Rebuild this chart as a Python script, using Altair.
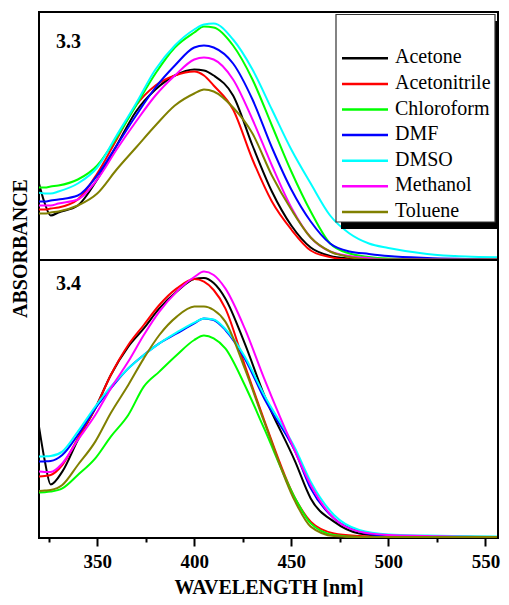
import altair as alt
import pandas as pd

solvents = ["Acetone", "Acetonitrile", "Chloroform", "DMF", "DMSO", "Methanol", "Toluene"]
colors = ["#000000", "#ff0000", "#00ff00", "#0000ff", "#00ffff", "#ff00ff", "#808000"]
panel_labels = ["3.3", "3.4"]

# ---- panel 3.3 ----
wl_top = [320, 323, 326, 330, 340, 350, 360, 370, 380, 390, 400, 405, 410, 420, 430,
          440, 450, 460, 470, 480, 490, 500, 520, 540, 556]
top_acetone = [0.38, 0.28, 0.22, 0.235, 0.27, 0.40, 0.57, 0.74, 0.85, 0.92, 0.95, 0.945, 0.92, 0.82, 0.57,
               0.34, 0.17, 0.06, 0.018, 0.005, 0.0, 0.0, 0.0, 0.0, 0.0]
top_acetonitrile = [0.25, 0.25, 0.255, 0.26, 0.30, 0.43, 0.60, 0.77, 0.87, 0.92, 0.94, 0.92, 0.87, 0.75, 0.50,
                    0.29, 0.15, 0.045, 0.012, 0.0, 0.0, 0.0, 0.0, 0.0, 0.0]
top_chloroform = [0.36, 0.36, 0.365, 0.37, 0.40, 0.47, 0.61, 0.77, 0.93, 1.06, 1.135, 1.165, 1.16, 1.07, 0.90,
                  0.67, 0.44, 0.24, 0.08, 0.03, 0.013, 0.005, 0.0, 0.0, 0.0]
top_dmf = [0.29, 0.29, 0.295, 0.30, 0.32, 0.42, 0.57, 0.72, 0.86, 0.97, 1.06, 1.07, 1.06, 0.98, 0.80,
           0.56, 0.35, 0.19, 0.08, 0.04, 0.028, 0.018, 0.008, 0.003, 0.0]
top_dmso = [0.334, 0.33, 0.33, 0.34, 0.38, 0.46, 0.62, 0.78, 0.95, 1.07, 1.15, 1.175, 1.18, 1.10, 0.95,
            0.75, 0.55, 0.38, 0.22, 0.13, 0.08, 0.058, 0.028, 0.015, 0.011]
top_methanol = [0.27, 0.27, 0.27, 0.28, 0.30, 0.40, 0.55, 0.69, 0.82, 0.92, 1.00, 1.01, 1.00, 0.90, 0.70,
                0.47, 0.26, 0.11, 0.04, 0.018, 0.007, 0.0, 0.0, 0.0, 0.0]
top_toluene = [0.23, 0.23, 0.235, 0.24, 0.27, 0.33, 0.45, 0.56, 0.67, 0.77, 0.83, 0.85, 0.84, 0.76, 0.63,
               0.42, 0.25, 0.11, 0.04, 0.012, 0.0, 0.0, 0.0, 0.0, 0.0]

# ---- panel 3.4 ----
wl_bot = [320, 323, 326, 332, 340, 349, 357, 366, 374, 382, 391, 400, 405, 410, 416,
          426, 436, 452, 460, 472, 485, 500, 520, 545, 556]
bot_acetone = [0.552, 0.38, 0.263, 0.327, 0.485, 0.643, 0.81, 0.952, 1.043, 1.143, 1.227, 1.29, 1.295, 1.27, 1.193,
               0.968, 0.71, 0.377, 0.193, 0.077, 0.018, 0.005, 0.003, 0.001, 0.0]
bot_acetonitrile = [0.302, 0.305, 0.31, 0.36, 0.493, 0.643, 0.81, 0.96, 1.06, 1.16, 1.243, 1.29, 1.277, 1.235, 1.143,
                    0.86, 0.585, 0.193, 0.077, 0.018, 0.005, 0.0, 0.0, 0.0, 0.0]
bot_chloroform = [0.223, 0.224, 0.227, 0.243, 0.31, 0.393, 0.502, 0.61, 0.752, 0.827, 0.91, 0.985, 1.007, 0.993, 0.943,
                  0.76, 0.543, 0.193, 0.068, 0.01, 0.0, 0.0, 0.0, 0.0, 0.0]
bot_dmf = [0.377, 0.378, 0.38, 0.41, 0.51, 0.643, 0.743, 0.843, 0.91, 0.968, 1.018, 1.068, 1.093, 1.085, 1.035,
           0.893, 0.693, 0.427, 0.243, 0.093, 0.027, 0.005, 0.002, 0.0, 0.0]
bot_dmso = [0.402, 0.403, 0.405, 0.427, 0.527, 0.652, 0.752, 0.843, 0.91, 0.968, 1.023, 1.072, 1.093, 1.088, 1.04,
            0.902, 0.71, 0.443, 0.277, 0.11, 0.035, 0.013, 0.007, 0.003, 0.002]
bot_methanol = [0.327, 0.325, 0.325, 0.368, 0.485, 0.61, 0.743, 0.877, 1.01, 1.127, 1.227, 1.30, 1.327, 1.31, 1.243,
                1.043, 0.793, 0.427, 0.26, 0.093, 0.027, 0.01, 0.005, 0.0, 0.0]
bot_toluene = [0.23, 0.232, 0.235, 0.26, 0.36, 0.477, 0.62, 0.76, 0.893, 1.01, 1.102, 1.152, 1.153, 1.135, 1.077,
               0.843, 0.577, 0.177, 0.052, 0.005, 0.0, 0.0, 0.0, 0.0, 0.0]

x_ticks_major = [350, 400, 450, 500, 550]
x_ticks_minor = [325, 375, 425, 475, 525]

top_series = [top_acetone, top_acetonitrile, top_chloroform, top_dmf, top_dmso, top_methanol, top_toluene]
bot_series = [bot_acetone, bot_acetonitrile, bot_chloroform, bot_dmf, bot_dmso, bot_methanol, bot_toluene]


def long_frame(wl, series):
    rows = []
    for name, vals in zip(solvents, series):
        for w, v in zip(wl, vals):
            rows.append({"solvent": name, "wavelength": w, "absorbance": v})
    return pd.DataFrame(rows)


df_top = long_frame(wl_top, top_series)
df_bot = long_frame(wl_bot, bot_series)
df_leg = pd.DataFrame({"solvent": solvents})

FONT = "Liberation Serif"
PW = 459
x_scale = alt.Scale(domain=[320, 556.5], nice=False, zero=False)
color_scale = alt.Scale(domain=solvents, range=colors)

# ---------- top panel ----------
lines_top = alt.Chart(df_top).mark_line(strokeWidth=2, interpolate="monotone", clip=True).encode(
    x=alt.X("wavelength:Q", scale=x_scale, axis=None),
    y=alt.Y("absorbance:Q", scale=alt.Scale(domain=[-0.0025, 1.2375], nice=False, zero=False),
            axis=alt.Axis(title="ABSORBANCE", labels=False, ticks=False, domain=False, grid=False,
                          titleFont=FONT, titleFontSize=20, titleFontWeight="bold", titleColor="black",
                          titleX=-13, titleY=236, titleAngle=270, titleAlign="center",
                          titleBaseline="alphabetic")),
    color=alt.Color("solvent:N", scale=color_scale, legend=None),
    detail="solvent:N",
)

one = pd.DataFrame({"k": [0]})
shadow = alt.Chart(one).mark_rect(color="black").encode(
    x=alt.value(302), x2=alt.value(460), y=alt.value(9), y2=alt.value(217))
box = alt.Chart(one).mark_rect(fill="white", stroke="#333333", strokeWidth=1.2).encode(
    x=alt.value(297), x2=alt.value(456), y=alt.value(2.5), y2=alt.value(210))

leg_y = alt.Y("solvent:N", scale=alt.Scale(type="point", domain=solvents, range=[46.3, 199.9], padding=0),
              axis=None)
leg_lines = alt.Chart(df_leg).mark_rule(strokeWidth=2.5).encode(
    x=alt.value(303), x2=alt.value(349), y=leg_y,
    color=alt.Color("solvent:N", scale=color_scale, legend=None))
leg_text = alt.Chart(df_leg).mark_text(font=FONT, fontSize=20, align="left", baseline="middle",
                                       color="black", dy=-1).encode(
    x=alt.value(356), y=leg_y, text="solvent:N")

lab_top = alt.Chart(pd.DataFrame({"label": [panel_labels[0]]})).mark_text(
    font=FONT, fontSize=20, fontWeight="bold", align="left", baseline="alphabetic", color="black"
).encode(text="label:N", x=alt.value(17), y=alt.value(36))

top = alt.layer(lines_top, shadow, box, leg_lines, leg_text, lab_top).resolve_scale(
    y="independent").properties(width=PW, height=248)

# ---------- bottom panel ----------
lines_bot = alt.Chart(df_bot).mark_line(strokeWidth=2, interpolate="monotone", clip=True).encode(
    x=alt.X("wavelength:Q", scale=x_scale,
            axis=alt.Axis(orient="bottom", values=x_ticks_major, tickSize=8, tickWidth=2, tickColor="black",
                          labelFont=FONT, labelFontSize=19, labelFontWeight="bold", labelColor="black",
                          labelPadding=6, labelFlush=False, labelOverlap=False, format="d",
                          title="WAVELENGTH [nm]", titleFont=FONT, titleFontSize=20,
                          titleFontWeight="bold", titleColor="black", titlePadding=6,
                          domain=False, grid=False)),
    y=alt.Y("absorbance:Q", scale=alt.Scale(domain=[-0.005, 1.385], nice=False, zero=False), axis=None),
    color=alt.Color("solvent:N", scale=color_scale, legend=None),
    detail="solvent:N",
)
minor = alt.Chart(pd.DataFrame({"wavelength": x_ticks_minor})).mark_point(opacity=0).encode(
    x=alt.X("wavelength:Q", scale=x_scale,
            axis=alt.Axis(orient="bottom", values=x_ticks_minor, tickSize=4, tickWidth=2, tickColor="black",
                          labels=False, title=None, domain=False, grid=False)),
)
lab_bot = alt.Chart(pd.DataFrame({"label": [panel_labels[1]]})).mark_text(
    font=FONT, fontSize=20, fontWeight="bold", align="left", baseline="alphabetic", color="black"
).encode(text="label:N", x=alt.value(17), y=alt.value(30))

bottom = alt.layer(lines_bot, minor, lab_bot).resolve_axis(x="independent").properties(width=PW, height=278)

chart = alt.vconcat(top, bottom, spacing=0, bounds="flush").resolve_scale(
    y="independent", color="independent"
).configure_view(
    stroke="black", strokeWidth=2
).properties(padding={"left": 1, "top": 3, "right": 0, "bottom": 0}, background="white")

chart.save("out.html", embed_options={"renderer": "svg", "actions": False})
